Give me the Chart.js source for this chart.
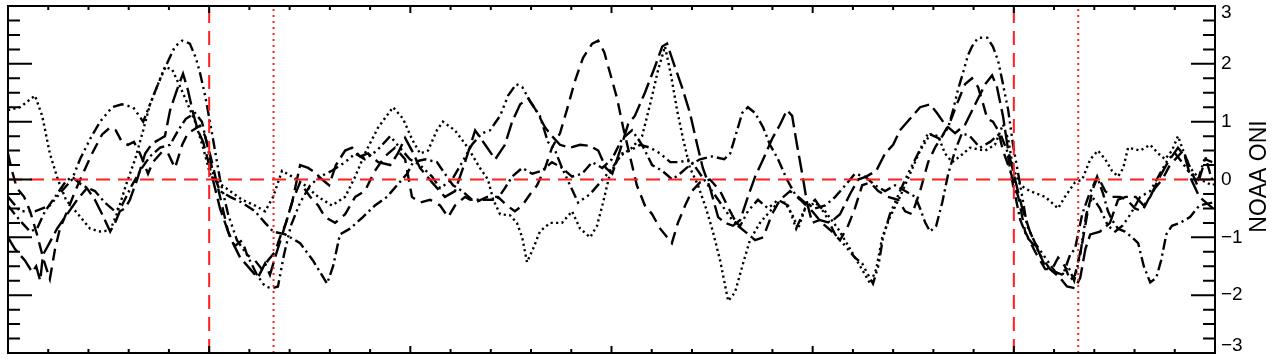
<!DOCTYPE html>
<html><head><meta charset="utf-8">
<script src="https://cdn.jsdelivr.net/npm/chart.js@4.4.0/dist/chart.umd.min.js"></script>
<style>html,body{margin:0;padding:0;background:#fff;}#wrap{width:1280px;height:361px;}</style>
</head><body><div id="wrap"><canvas id="c" width="1280" height="361"></canvas></div>
<script>
// x: time units (0..30), y: NOAA ONI
const dottedSeries = [[0,1.2],[0.30,1.25],[0.67,1.45],[0.85,1.1],[1.04,0.45],[1.24,0],[1.44,-0.35],[1.74,-0.6],[2.04,-0.85],[2.29,-0.9],[2.54,-0.88],[2.73,-0.55],[2.93,-0.1],[3.16,0.35],[3.36,0.85],[3.53,1.3],[3.73,1.65],[3.90,1.95],[4.08,1.9],[4.28,1.6],[4.47,1.3],[4.65,1.0],[4.85,0.55],[5.02,0.1],[5.22,-0.05],[5.52,-0.2],[5.82,-0.35],[6.14,-0.45],[6.39,-0.55],[6.59,-0.3],[6.81,0.15],[7.06,0.05],[7.38,-0.1],[7.71,-0.3],[8.05,-0.45],[8.38,-0.3],[8.63,0.05],[8.87,0.45],[9.20,0.9],[9.57,1.25],[9.82,1.05],[10.04,0.7],[10.24,0.45],[10.44,0.5],[10.66,0.85],[10.81,1.0],[11.11,0.85],[11.43,0.55],[11.73,0.2],[11.93,0],[12.06,-0.35],[12.23,-0.6],[12.48,-0.62],[12.65,-0.75],[12.78,-1.0],[12.90,-1.43],[13.05,-1.2],[13.22,-0.9],[13.47,-0.75],[13.77,-0.75],[14.02,-0.55],[14.22,-0.85],[14.47,-1.0],[14.64,-0.8],[14.79,-0.4],[14.96,0.1],[15.21,0.4],[15.51,0.55],[15.76,0.75],[15.96,1.3],[16.16,1.9],[16.33,2.3],[16.48,1.8],[16.63,1.2],[16.78,0.7],[16.95,0.2],[17.15,-0.1],[17.35,-0.5],[17.52,-0.9],[17.70,-1.4],[17.90,-2.1],[18.07,-1.95],[18.25,-1.5],[18.44,-1.05],[18.69,-0.75],[18.94,-0.55],[19.14,-0.4],[19.31,-0.4],[19.49,-0.6],[19.64,-0.85],[19.81,-0.5],[20.06,-0.4],[20.31,-0.55],[20.63,-0.85],[20.93,-1.2],[21.18,-1.5],[21.43,-1.8],[21.58,-1.55],[21.73,-1.0],[21.92,-0.65],[22.17,-0.3],[22.42,0.1],[22.67,0.5],[22.92,0.78],[23.12,0.75],[23.29,0.45],[23.47,0.3],[23.66,0.4],[23.91,0.55],[24.29,0.5],[24.53,0.6],[24.73,0.95],[24.86,0.7],[24.98,0.2],[25.16,-0.1],[25.40,-0.2],[25.78,-0.3],[26.10,-0.5],[26.27,-0.3],[26.52,-0.05],[26.70,0],[26.90,0.35],[27.09,0.5],[27.27,0.35],[27.44,0.15],[27.59,0.05],[27.72,0.2],[27.84,0.55],[28.14,0.5],[28.39,0.6],[28.59,0.45],[28.76,0.35],[28.93,0.5],[29.08,0.75],[29.21,0.5],[29.38,0.2],[29.63,0],[29.93,-0.1]];

const dashedSeries = [[0,0.45],[0.10,0.15],[0.22,-0.15],[0.40,-0.3],[0.55,-0.55],[0.72,-0.95],[0.89,-1.4],[1.04,-1.72],[1.17,-1.2],[1.29,-0.85],[1.47,-0.55],[1.67,-0.2],[1.86,0.1],[2.09,0.45],[2.34,0.78],[2.54,0.9],[2.68,0.85],[2.83,0.65],[2.98,0.6],[3.13,0.65],[3.28,0.45],[3.48,0.1],[3.60,0.3],[3.83,0.48],[3.98,0.45],[4.15,0.2],[4.33,0.6],[4.47,0.8],[4.77,0.93],[4.90,0.75],[5.07,0.3],[5.27,-0.3],[5.47,-0.9],[5.64,-1.15],[5.82,-1.05],[5.94,-1.3],[6.14,-1.4],[6.31,-1.55],[6.46,-1.4],[6.64,-1.25],[6.76,-1.0],[6.91,-0.75],[7.08,-0.35],[7.26,-0.05],[7.51,-0.3],[7.71,-0.45],[7.88,-0.65],[8.13,-0.75],[8.38,-0.6],[8.63,-0.3],[8.87,-0.2],[9.12,0.15],[9.37,0.4],[9.62,0.55],[9.87,0.35],[10.04,-0.3],[10.24,-0.4],[10.49,-0.35],[10.74,-0.45],[10.94,-0.65],[11.11,-0.45],[11.36,-0.3],[11.61,-0.4],[11.91,-0.3],[12.18,-0.3],[12.40,-0.45],[12.60,-0.55],[12.78,-0.45],[12.98,-0.25],[13.15,-0.1],[13.35,0.2],[13.52,0.55],[13.72,0.8],[13.89,1.2],[14.09,1.7],[14.29,2.1],[14.52,2.35],[14.67,2.4],[14.82,2.2],[14.96,1.85],[15.14,1.4],[15.29,0.9],[15.46,0.4],[15.63,-0.1],[15.83,-0.45],[16.01,-0.6],[16.21,-0.85],[16.50,-1.1],[16.65,-0.75],[16.83,-0.45],[17.00,-0.2],[17.20,-0.05],[17.45,0],[17.70,-0.2],[17.95,-0.55],[18.14,-0.8],[18.32,-0.9],[18.57,-1.05],[18.77,-1.0],[18.99,-0.6],[19.19,-0.35],[19.44,-0.2],[19.69,-0.35],[19.99,-0.55],[20.23,-0.75],[20.48,-0.9],[20.68,-1.05],[20.88,-0.8],[21.05,-0.5],[21.23,-0.1],[21.43,-0.05],[21.63,-0.2],[21.87,-0.3],[22.12,-0.35],[22.30,-0.55],[22.47,-0.6],[22.67,-0.2],[22.87,0.3],[23.04,0.55],[23.22,0.75],[23.42,1.0],[23.61,1.35],[23.79,1.65],[23.96,1.75],[24.11,1.6],[24.24,1.3],[24.34,1.05],[24.48,1.0],[24.61,0.85],[24.73,0.5],[24.91,0.15],[25.11,-0.3],[25.28,-0.9],[25.53,-1.25],[25.78,-1.55],[25.95,-1.55],[26.10,-1.35],[26.27,-1.5],[26.40,-1.75],[26.52,-1.65],[26.70,-1.1],[26.85,-0.5],[26.97,-0.15],[27.09,0.05],[27.27,-0.2],[27.44,-0.3],[27.64,-0.3],[27.81,-0.35],[28.01,-0.5],[28.19,-0.55],[28.34,-0.35],[28.51,-0.15],[28.69,0],[28.88,0.25],[29.08,0.4],[29.21,0.5],[29.38,0.2],[29.56,-0.1],[29.76,0.35],[29.93,0.3]];

const dashDotSeries = [[0,-0.45],[0.17,-0.6],[0.35,-0.75],[0.55,-0.9],[0.72,-0.85],[0.92,-0.55],[1.17,-0.3],[1.42,-0.05],[1.59,0.05],[1.84,-0.1],[2.16,-0.2],[2.41,-0.4],[2.66,-0.55],[2.83,-0.45],[3.08,-0.1],[3.33,0.2],[3.53,0.4],[3.78,0.55],[4.03,0.6],[4.23,0.85],[4.42,1.05],[4.65,1.15],[4.82,1.0],[4.95,0.6],[5.10,0.1],[5.27,-0.2],[5.52,-0.3],[5.82,-0.4],[6.14,-0.55],[6.39,-0.75],[6.59,-0.9],[6.89,-0.95],[7.26,-1.1],[7.58,-1.4],[7.93,-1.8],[8.08,-1.5],[8.25,-0.95],[8.50,-0.85],[8.82,-0.65],[9.12,-0.45],[9.42,-0.3],[9.67,-0.1],[9.92,0.1],[10.07,0.3],[10.37,0.35],[10.66,0.3],[10.86,0.1],[11.06,-0.1],[11.29,-0.2],[11.53,-0.35],[11.86,-0.35],[12.15,-0.35],[12.35,-0.15],[12.53,0.05],[12.78,0.2],[13.03,0.1],[13.27,0.15],[13.52,0.3],[13.77,0.2],[14.02,0.05],[14.27,0.1],[14.52,0.3],[14.77,0.2],[15.01,0.35],[15.26,0.7],[15.51,0.85],[15.76,0.6],[16.01,0.25],[16.26,0.15],[16.51,0],[16.70,0.1],[16.95,0.25],[17.20,0.35],[17.50,0.4],[17.80,0.35],[17.95,0.45],[18.10,0.8],[18.25,1.15],[18.39,1.25],[18.57,1.15],[18.77,0.9],[18.94,0.6],[19.14,0.35],[19.36,0],[19.56,-0.25],[19.81,-0.4],[20.06,-0.5],[20.31,-0.45],[20.56,-0.3],[20.81,-0.1],[21.05,0.1],[21.30,0.05],[21.55,-0.1],[21.80,-0.2],[22.05,-0.1],[22.30,-0.2],[22.55,-0.3],[22.67,-0.5],[22.80,-0.75],[22.92,-0.9],[23.07,-0.8],[23.22,-0.4],[23.37,0.1],[23.54,0.5],[23.71,0.8],[23.91,0.75],[24.16,0.55],[24.41,0.65],[24.66,0.8],[24.83,0.5],[24.98,-0.1],[25.16,-0.7],[25.33,-1.0],[25.58,-1.2],[25.78,-1.5],[26.03,-1.6],[26.22,-1.65],[26.40,-1.3],[26.52,-1.2],[26.70,-0.6],[26.85,-0.3],[27.07,0.05],[27.22,-0.25],[27.34,-0.55],[27.44,-0.7],[27.59,-0.85],[27.76,-0.9],[27.94,-1.0],[28.09,-1.1],[28.23,-1.5],[28.39,-1.78],[28.54,-1.7],[28.66,-1.4],[28.79,-0.95],[28.93,-0.8],[29.13,-0.75],[29.38,-0.65],[29.61,-0.45],[29.93,-0.4]];

const dash3DotSeries = [[0,-0.3],[0.30,-0.55],[0.67,-0.55],[1.04,-0.45],[1.34,-0.2],[1.59,0],[1.79,0.35],[2.04,0.7],[2.29,1.0],[2.59,1.25],[2.83,1.3],[3.11,1.25],[3.36,1.0],[3.53,1.3],[3.70,1.6],[3.98,2.05],[4.15,2.3],[4.33,2.4],[4.52,2.35],[4.67,2.1],[4.77,1.85],[4.90,1.45],[5.07,0.8],[5.27,0],[5.47,-0.6],[5.69,-1.05],[5.94,-1.3],[6.19,-1.65],[6.39,-1.85],[6.56,-1.88],[6.71,-1.85],[6.86,-1.3],[7.03,-0.8],[7.26,-0.4],[7.51,-0.1],[7.76,0.05],[8.05,0.15],[8.38,0.3],[8.63,0.45],[8.87,0.35],[9.17,0.5],[9.50,0.75],[9.74,0.55],[9.99,0.35],[10.24,0.25],[10.54,0.05],[10.74,-0.15],[11.04,0],[11.29,0.3],[11.53,0.6],[11.78,0.8],[11.98,0.85],[12.23,1.1],[12.43,1.45],[12.63,1.65],[12.78,1.6],[12.98,1.35],[13.22,1.1],[13.42,0.65],[13.60,0.5],[13.77,0.2],[13.97,-0.1],[14.17,-0.4],[14.47,-0.25],[14.72,-0.05],[15.02,0.2],[15.26,0.45],[15.46,0.5],[15.71,0.6],[15.96,0.55],[16.21,0.45],[16.46,0.3],[16.70,0.3],[16.95,0.35],[17.20,0.1],[17.50,-0.2],[17.75,-0.45],[18.00,-0.7],[18.20,-0.8],[18.39,-0.55],[18.64,-0.35],[18.89,-0.5],[19.14,-0.35],[19.39,-0.45],[19.59,-0.85],[19.81,-0.5],[20.06,-0.35],[20.31,-0.6],[20.56,-0.95],[20.81,-1.15],[21.05,-1.35],[21.23,-1.45],[21.38,-1.65],[21.50,-1.8],[21.63,-1.5],[21.75,-1.0],[21.92,-0.6],[22.17,-0.2],[22.37,0.1],[22.62,0.45],[22.87,0.8],[23.17,0.7],[23.37,0.9],[23.49,1.2],[23.61,1.55],[23.74,1.85],[23.86,2.15],[23.96,2.3],[24.11,2.45],[24.34,2.45],[24.48,2.3],[24.61,2.05],[24.73,1.65],[24.86,1.2],[24.98,0.6],[25.16,-0.1],[25.33,-0.8],[25.53,-1.1],[25.78,-1.35],[26.03,-1.6],[26.20,-1.65],[26.35,-1.5],[26.50,-1.75],[26.65,-1.3],[26.80,-0.6],[26.95,-0.3],[27.14,-0.5],[27.34,-0.8],[27.52,-0.9],[27.70,-0.8],[27.90,-0.6],[28.14,-0.3],[28.39,-0.2],[28.63,0.1],[28.83,0.35],[29.01,0.45],[29.18,0.3],[29.38,0.1],[29.58,0],[29.76,0.4],[29.88,0.1],[29.98,-0.1]];

const longDashSeries = [[0,-1.0],[0.17,-1.2],[0.42,-1.4],[0.60,-1.6],[0.70,-1.5],[0.80,-1.75],[0.87,-1.3],[0.99,-1.15],[1.22,-0.85],[1.47,-0.6],[1.72,-0.35],[1.96,-0.15],[2.16,-0.35],[2.34,-0.6],[2.54,-0.9],[2.66,-0.75],[2.78,-0.55],[2.91,-0.5],[3.03,-0.35],[3.21,0],[3.41,0.45],[3.58,0.62],[3.78,0.7],[3.90,0.75],[4.03,1.2],[4.20,1.55],[4.35,1.83],[4.47,1.55],[4.60,1.15],[4.72,0.85],[4.85,0.65],[5.02,0.2],[5.27,-0.5],[5.52,-1.0],[5.77,-1.35],[6.02,-1.55],[6.21,-1.7],[6.39,-1.45],[6.51,-1.65],[6.66,-1.3],[6.84,-0.9],[7.06,-0.4],[7.26,0.25],[7.46,0.2],[7.63,0.12],[7.81,0],[7.98,-0.1],[8.15,0.25],[8.38,0.5],[8.55,0.55],[8.75,0.4],[8.95,0.45],[9.20,0.3],[9.50,0.25],[9.69,0.45],[9.87,0.72],[10.04,0.5],[10.24,0.2],[10.54,-0.05],[10.86,-0.3],[11.11,-0.2],[11.36,0.3],[11.61,0.85],[11.86,0.6],[12.11,0.35],[12.35,0.6],[12.53,1.0],[12.73,1.3],[12.93,1.4],[13.12,1.2],[13.35,0.9],[13.52,0.75],[13.72,0.6],[13.97,0.55],[14.22,0.6],[14.47,0.58],[14.67,0.5],[14.86,0.2],[15.02,0.1],[15.21,0.5],[15.41,0.95],[15.58,1.1],[15.83,1.5],[16.08,1.95],[16.26,2.3],[16.38,2.35],[16.55,2.0],[16.75,1.6],[16.95,1.15],[17.13,0.6],[17.27,0.2],[17.45,-0.15],[17.65,-0.65],[17.82,-0.75],[18.02,-0.8],[18.20,-0.7],[18.39,-0.3],[18.57,0.05],[18.77,0.35],[18.99,0.7],[19.19,0.95],[19.36,1.2],[19.49,1.1],[19.61,0.6],[19.74,0.1],[19.86,-0.4],[19.99,-0.75],[20.18,-0.7],[20.43,-0.75],[20.68,-0.6],[20.93,-0.25],[21.13,0],[21.33,0.05],[21.58,0.15],[21.80,0.45],[22.00,0.6],[22.17,0.85],[22.42,1.05],[22.67,1.25],[22.92,1.3],[23.09,1.15],[23.29,0.95],[23.54,0.8],[23.79,0.95],[24.04,1.3],[24.29,1.65],[24.46,1.8],[24.58,1.6],[24.73,1.1],[24.86,0.5],[25.03,0],[25.21,-0.5],[25.40,-0.9],[25.65,-1.3],[25.90,-1.55],[26.15,-1.7],[26.32,-1.85],[26.52,-1.88],[26.65,-1.7],[26.78,-1.2],[26.90,-0.95],[27.14,-0.9],[27.39,-0.75],[27.59,-0.35],[27.78,-0.3],[28.03,-0.3],[28.23,-0.45],[28.39,-0.3],[28.59,0],[28.83,0.3],[29.08,0.55],[29.25,0.4],[29.41,0],[29.61,-0.3],[29.95,-0.5]];

const xRange = [0, 30];
const yRange = [-3, 3];
const eventLines = [5, 25];      // red dashed verticals
const lagLines = [6.6, 26.6];    // red dotted verticals
const yTickValues = [-3, -2, -1, 0, 1, 2, 3];
const yTickLabels = ['\u22123', '\u22122', '\u22121', '0', '1', '2', '3'];
const yAxisTitle = 'NOAA ONI';

const toPts = arr => arr.map(p => ({x: p[0], y: p[1]}));
const blackLine = (data, dash, cap) => ({
  data: toPts(data), showLine: true, borderColor: '#000', borderWidth: 2.4,
  borderDash: dash, pointRadius: 0, fill: false, tension: 0, order: 2,
  borderCapStyle: cap || 'butt', borderJoinStyle: 'miter'
});
const redV = (xv, dash, w) => ({
  data: [{x: xv, y: yRange[0]}, {x: xv, y: yRange[1]}], showLine: true,
  borderColor: '#ff1f1f', borderWidth: w, borderDash: dash, pointRadius: 0, order: 0
});

const datasets = [
  blackLine(dottedSeries, [2.2, 3.3]),
  blackLine(dashedSeries, [12, 7]),
  blackLine(dashDotSeries, [11, 4, 2.2, 4]),
  blackLine(dash3DotSeries, [11, 4, 2.2, 4, 2.2, 4, 2.2, 4]),
  blackLine(longDashSeries, [17, 6]),
  {data: [{x: xRange[0], y: 0}, {x: xRange[1], y: 0}], showLine: true, borderColor: '#ff1f1f',
   borderWidth: 2, borderDash: [14, 8], pointRadius: 0, order: 0},
  ...eventLines.map(v => redV(v, [14, 8], 2)),
  ...lagLines.map(v => redV(v, [2, 4], 2))
];

const frame = {
  id: 'frame',
  afterDatasetsDraw(chart) {
    const {ctx, chartArea: a, scales: {x, y}} = chart;
    ctx.save();
    ctx.setLineDash([]);
    ctx.strokeStyle = '#000';
    ctx.lineWidth = 2;
    ctx.strokeRect(a.left, a.top, a.right - a.left, a.bottom - a.top);
    ctx.beginPath();
    for (let i = 0; i <= 24; i++) {
      const v = yRange[0] + i * 0.25;
      const py = y.getPixelForValue(v);
      const len = (i % 4 === 0) ? 24 : 12;
      ctx.moveTo(a.left, py); ctx.lineTo(a.left + len, py);
      ctx.moveTo(a.right, py); ctx.lineTo(a.right - len, py);
    }
    for (let v = xRange[0]; v <= xRange[1]; v++) {
      const px = x.getPixelForValue(v);
      const len = (v % 5 === 0) ? 7 : 4;
      ctx.moveTo(px, a.bottom); ctx.lineTo(px, a.bottom - len);
      ctx.moveTo(px, a.top); ctx.lineTo(px, a.top + len);
    }
    ctx.stroke();
    ctx.fillStyle = '#000';
    ctx.font = '19px "Liberation Sans", Arial, sans-serif';
    ctx.textAlign = 'left';
    ctx.textBaseline = 'middle';
    yTickValues.forEach((v, i) => {
      let py = y.getPixelForValue(v);
      py = Math.min(Math.max(py, a.top + 7), a.bottom - 7);
      ctx.fillText(yTickLabels[i], a.right + 6, py);
    });
    ctx.translate(a.right + 45, (a.top + a.bottom) / 2 - 3);
    ctx.rotate(-Math.PI / 2);
    ctx.textAlign = 'center';
    ctx.font = '23px "Liberation Sans", Arial, sans-serif';
    ctx.fillText(yAxisTitle, 0, 0);
    ctx.restore();
  }
};

new Chart(document.getElementById('c'), {
  type: 'scatter',
  data: {datasets},
  options: {
    responsive: false, devicePixelRatio: 1, animation: false,
    layout: {padding: {left: 8, top: 6, bottom: 8, right: 65}},
    plugins: {legend: {display: false}, tooltip: {enabled: false}},
    scales: {
      x: {type: 'linear', min: xRange[0], max: xRange[1], display: false},
      y: {type: 'linear', min: yRange[0], max: yRange[1], display: false}
    }
  },
  plugins: [frame]
});
</script></body></html>
